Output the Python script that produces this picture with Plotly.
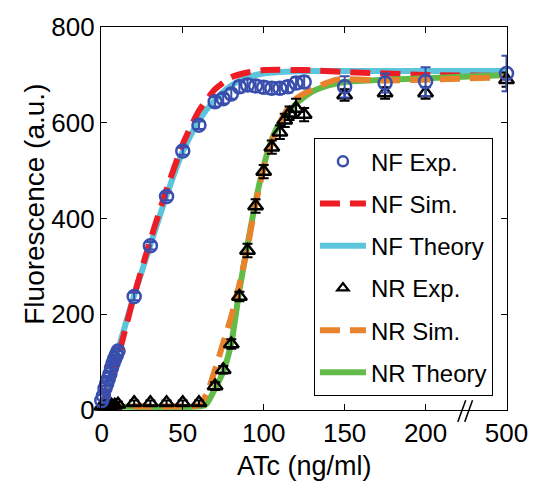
import plotly.graph_objects as go

# ---------------- data (x in ng/ml, y in a.u.) ----------------
nf_exp_x = [0, 1, 2, 3, 4, 5, 6, 7, 8, 9, 10, 20, 30, 40, 50, 60,
            70, 75, 80, 85, 90, 95, 100, 105, 110, 115, 120, 125, 150, 175, 200, 500]
nf_exp_y = [20, 30, 45, 55, 65, 75, 88, 98, 107, 115, 123, 237, 343, 446, 541, 595,
            644, 650, 660, 675, 679, 677, 674, 672, 672, 675, 683, 685, 675, 683, 686, 703]
nf_exp_err = [6, 6, 6, 6, 6, 6, 6, 6, 8, 8, 8, 8, 8, 8, 8, 8,
              10, 10, 10, 12, 12, 12, 12, 12, 12, 12, 12, 12, 22, 20, 30, 37]

nr_exp_x = [0, 2, 4, 6, 8, 10, 20, 30, 40, 50, 60, 70, 75, 80, 85, 90, 95, 100,
            105, 110, 113, 116, 120, 125, 150, 175, 200, 500]
nr_exp_y = [8, 8, 8, 10, 10, 12, 15, 15, 15, 15, 15, 50, 84, 138, 237, 333, 426, 498,
            549, 580, 605, 620, 630, 617, 658, 662, 662, 690]
nr_exp_err = [5, 5, 5, 5, 5, 5, 5, 5, 5, 5, 5, 8, 8, 10, 10, 14, 14, 14,
              14, 14, 14, 14, 20, 14, 12, 12, 12, 15]

nf_sim_x = [0, 5, 10, 15, 20, 30, 40, 50, 60, 70, 80, 90, 100, 125, 150, 200, 500]
nf_sim_y = [5, 50, 110, 175, 240, 355, 460, 555, 625, 670, 695, 705, 710, 710, 706, 700, 698]

nf_th_x = [0, 5, 10, 20, 30, 40, 50, 60, 70, 80, 90, 100, 110, 125, 150, 200, 500]
nf_th_y = [10, 62, 125, 240, 345, 448, 540, 605, 648, 678, 695, 703, 706, 708, 708, 708, 708]

nr_sim_x = [0, 55, 60, 65, 70, 75, 80, 85, 90, 95, 100, 105, 110, 115, 120, 130, 145, 175, 200, 500]
nr_sim_y = [8, 8, 10, 35, 85, 140, 195, 262, 340, 430, 505, 560, 600, 630, 650, 670, 690, 688, 690, 695]

nr_th_x = [0, 62, 65, 70, 75, 80, 85, 90, 95, 100, 105, 110, 115, 120, 130, 140, 150, 175, 200, 500]
nr_th_y = [8, 8, 14, 45, 80, 140, 250, 345, 435, 510, 565, 600, 620, 640, 665, 678, 685, 690, 693, 700]

tick_vals_real = [0, 50, 100, 150, 200, 500]
tick_text = ["0", "50", "100", "150", "200", "500"]


# broken x axis: 0-200 linear, 500 placed after the break
def bx(v):
    return v if v <= 200 else 200 + (v - 200) / 6.0


def bxs(vals):
    return [bx(v) for v in vals]


FONT = "Liberation Sans, Arial, Helvetica, sans-serif"
BLUE = "#3A4EAD"
RED = "#EE1C25"
CYAN = "#5CC5DC"
ORANGE = "#E8822C"
GREEN = "#62BA48"

fig = go.Figure()

# lines (drawn first)
fig.add_trace(go.Scatter(x=bxs(nf_th_x), y=nf_th_y, mode="lines", name="NF Theory",
                         line=dict(color=CYAN, width=6, shape="spline", smoothing=0.6),
                         legendgroup="g3", legendrank=3, cliponaxis=False))
fig.add_trace(go.Scatter(x=bxs(nf_sim_x), y=nf_sim_y, mode="lines", name="NF Sim.",
                         line=dict(color=RED, width=6, dash="20px,10px", shape="spline", smoothing=0.6),
                         legendgroup="g2", legendrank=2, cliponaxis=False))
fig.add_trace(go.Scatter(x=bxs(nr_th_x), y=nr_th_y, mode="lines", name="NR Theory",
                         line=dict(color=GREEN, width=6, shape="spline", smoothing=0.6),
                         legendgroup="g6", legendrank=6, cliponaxis=False))
fig.add_trace(go.Scatter(x=bxs(nr_sim_x), y=nr_sim_y, mode="lines", name="NR Sim.",
                         line=dict(color=ORANGE, width=6, dash="20px,10px", shape="spline", smoothing=0.6),
                         legendgroup="g5", legendrank=5, cliponaxis=False))

# experimental points
fig.add_trace(go.Scatter(x=bxs(nr_exp_x), y=nr_exp_y, mode="markers", name="NR Exp.",
                         marker=dict(symbol="triangle-up-open", size=13, color="black",
                                     line=dict(width=2.5, color="black")),
                         error_y=dict(type="data", array=nr_exp_err, color="black",
                                      thickness=2, width=5),
                         legendgroup="g4", showlegend=False, cliponaxis=False))
fig.add_trace(go.Scatter(x=bxs(nf_exp_x), y=nf_exp_y, mode="markers", name="NF Exp.",
                         marker=dict(symbol="circle-open", size=13, color=BLUE,
                                     line=dict(width=2.5, color=BLUE)),
                         error_y=dict(type="data", array=nf_exp_err, color=BLUE,
                                      thickness=2, width=5),
                         legendgroup="g1", showlegend=False, cliponaxis=False))

# legend-only entries with smaller symbols (as in the reference legend)
fig.add_trace(go.Scatter(x=[None], y=[None], mode="markers", name="NF Exp.",
                         marker=dict(symbol="circle-open", size=10, color=BLUE,
                                     line=dict(width=2.5, color=BLUE)),
                         legendgroup="g1", legendrank=1))
fig.add_trace(go.Scatter(x=[None], y=[None], mode="markers", name="NR Exp.",
                         marker=dict(symbol="triangle-up-open", size=10, color="black",
                                     line=dict(width=2.2, color="black")),
                         legendgroup="g4", legendrank=4))

axis_common = dict(showgrid=False, zeroline=False, showline=True, linecolor="black",
                   linewidth=1.2, mirror="ticks", ticks="inside", ticklen=6,
                   tickcolor="black", tickwidth=1.2,
                   tickfont=dict(family=FONT, size=26, color="black"))

fig.update_xaxes(range=[-0.5, 250.3], tickvals=bxs(tick_vals_real), ticktext=tick_text,
                 **axis_common)
fig.update_yaxes(range=[0, 800], tickvals=[0, 200, 400, 600, 800], **axis_common)

fig.update_layout(
    width=540, height=487,
    margin=dict(l=101, r=25, t=21, b=77),
    paper_bgcolor="white", plot_bgcolor="white",
    font=dict(family=FONT, color="black"),
    showlegend=True,
    legend=dict(x=0.524, y=0.71, xanchor="left", yanchor="top",
                bordercolor="black", borderwidth=1.2, bgcolor="white",
                font=dict(family=FONT, size=24, color="black"),
                traceorder="grouped", tracegroupgap=8, itemwidth=46),
    annotations=[
        dict(text="ATc (ng/ml)", xref="paper", yref="paper", x=0.5, y=-0.1465,
             xanchor="center", yanchor="middle", showarrow=False,
             font=dict(family=FONT, size=27, color="black")),
        dict(text="Fluorescence (a.u.)", xref="paper", yref="paper", x=-0.164, y=0.537,
             xanchor="center", yanchor="middle", textangle=-90, showarrow=False,
             font=dict(family=FONT, size=28, color="black")),
    ],
    shapes=[
        dict(type="line", xref="x", yref="paper", x0=bx(200) + 19.9, y0=-0.031,
             x1=bx(200) + 24.8, y1=0.0257, line=dict(color="black", width=1.5)),
        dict(type="line", xref="x", yref="paper", x0=bx(200) + 24.2, y0=-0.031,
             x1=bx(200) + 29.0, y1=0.0257, line=dict(color="black", width=1.5)),
    ],
)

fig.write_html("out.html")
